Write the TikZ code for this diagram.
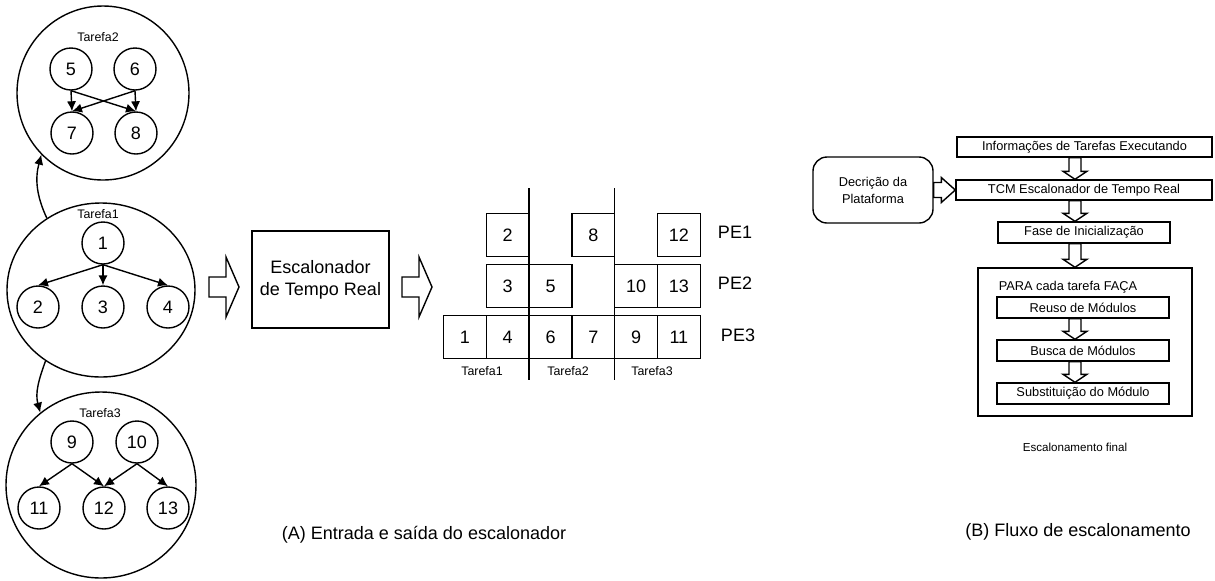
\documentclass[tikz,border=0pt]{standalone}
\usepackage{fontspec}
\setmainfont{Liberation Sans}
\usetikzlibrary{arrows,arrows.meta,shapes,positioning,calc}

\tikzset{
  tarefa/.style={draw,ellipse,inner sep=0pt},
  job/.style={draw,circle,minimum size=21pt,inner sep=0pt,font=\fontsize{9}{10}\selectfont},
  slot/.style={draw,minimum width=21.4pt,minimum height=21.5pt,inner sep=0pt,font=\fontsize{9}{10}\selectfont},
  etapa/.style={draw,minimum height=10.5pt,inner sep=0pt,font=\fontsize{6.4}{7.5}\selectfont},
  rotulo/.style={inner sep=1pt,font=\fontsize{6.2}{7}\selectfont},
  titulo/.style={inner sep=1pt,font=\fontsize{9}{10}\selectfont},
}

% seta vazada horizontal: de, ate, meia largura da haste, meia largura da ponta, comprimento da ponta
\newcommand{\setadir}[5]{%
  \draw[fill=white] let \p1=(#1), \p2=(#2) in
    (\x1,\y1+#3) -- (\x2-#5,\y1+#3) -- (\x2-#5,\y1+#4) -- (\x2,\y1)
    -- (\x2-#5,\y1-#4) -- (\x2-#5,\y1-#3) -- (\x1,\y1-#3) -- cycle;}
% seta vazada para baixo
\newcommand{\setabaixo}[2]{%
  \draw[fill=white] let \p1=(#1), \p2=(#2) in
    (\x1-3pt,\y1) -- (\x1-3pt,\y2+4pt) -- (\x1-6pt,\y2+4pt) -- (\x1,\y2)
    -- (\x1+6pt,\y2+4pt) -- (\x1+3pt,\y2+4pt) -- (\x1+3pt,\y1) -- cycle;}

\begin{document}
\begin{tikzpicture}[x=0.5pt,y=-0.5pt,>={Latex[length=5pt,width=4.6pt]},line width=0.7pt]
\useasboundingbox (0,0) rectangle (1215,580);

% tarefas
\node[tarefa,minimum width=86pt,minimum height=87pt] (t2) at (103,93) {};
\node[rotulo] (l2) at (98,37) {Tarefa2};
\node[job] (n5) at (71,69) {5};
\node[job] (n6) at (135,69) {6};
\node[job] (n7) at (72,133) {7};
\node[job] (n8) at (136,133) {8};
\draw[->] (n5.south) -- (n7.north);
\draw[->] (n5.south) -- (n8.north);
\draw[->] (n6.south) -- (n7.north);
\draw[->] (n6.south) -- (n8.north);

\node[tarefa,minimum width=94pt,minimum height=87pt] (t1) at (101,290) {};
\node[rotulo] (l1) at (98,214) {Tarefa1};
\node[job] (n1) at (103,243) {1};
\node[job] (n2) at (38,307) {2};
\node[job] (n3) at (103,307) {3};
\node[job] (n4) at (168,307) {4};
\draw[->] (n1.south) -- (n2.north);
\draw[->] (n1.south) -- (n3.north);
\draw[->] (n1.south) -- (n4.north);

\node[tarefa,minimum width=95pt,minimum height=93pt] (t3) at (101,485) {};
\node[rotulo] (l3) at (100,413) {Tarefa3};
\node[job] (n9) at (72,442) {9};
\node[job] (n10) at (137,442) {10};
\node[job] (n11) at (39,508) {11};
\node[job] (n12) at (104,508) {12};
\node[job] (n13) at (168,508) {13};
\draw[->] (n9.south) -- (n11.north);
\draw[->] (n9.south) -- (n12.north);
\draw[->] (n10.south) -- (n12.north);
\draw[->] (n10.south) -- (n13.north);

\draw[->] (t1.127) to[out=115,in=255] (t2.225);
\draw[->] (t1.232) to[out=250,in=105] (t3.130);

% escalonador
\node[draw,minimum width=68.5pt,minimum height=48.5pt,align=center,
      font=\fontsize{9}{11}\selectfont] (esc) at (320.5,279.5) {Escalonador\\de Tempo Real};
\coordinate (ea) at (209,287);
\coordinate (eb) at (239,287);
\coordinate (sa) at (402,287);
\coordinate (sb) at (432,287);
\setadir{ea}{eb}{5pt}{15pt}{6.5pt}
\setadir{sa}{sb}{5pt}{15pt}{6.5pt}

% escalonamento nos PEs
\node[slot] (s2) at (507.7,235) {2};
\node[slot] (s8) at (593.3,235) {8};
\node[slot] (s12) at (678.9,235) {12};
\node[slot] (s3) at (507.7,286) {3};
\node[slot] (s5) at (550.5,286) {5};
\node[slot] (s10) at (636.1,286) {10};
\node[slot] (s13) at (678.9,286) {13};
\node[slot] (s1) at (464.9,337) {1};
\node[slot] (s4) at (507.7,337) {4};
\node[slot] (s6) at (550.5,337) {6};
\node[slot] (s7) at (593.3,337) {7};
\node[slot] (s9) at (636.1,337) {9};
\node[slot] (s11) at (678.9,337) {11};
\draw (529.1,188) -- (529.1,380);
\draw (614.7,188) -- (614.7,380);
\node[titulo] (pe1) at (735,232) {PE1};
\node[titulo] (pe2) at (735,283) {PE2};
\node[titulo] (pe3) at (738,335) {PE3};
\node[rotulo] (g1) at (482,371) {Tarefa1};
\node[rotulo] (g2) at (568,371) {Tarefa2};
\node[rotulo] (g3) at (652,371) {Tarefa3};
\node[titulo] (capa) at (424,535) {(A) Entrada e saída do escalonador};

% fluxo
\node[etapa,minimum width=127.5pt,minimum height=10pt] (info) at (1084.5,147) {Informações de Tarefas Executando};
\node[etapa,minimum width=128pt,minimum height=10pt] (tcm) at (1084,190) {TCM Escalonador de Tempo Real};
\node[draw,rounded corners=7pt,minimum width=60pt,minimum height=33pt,align=center,
      font=\fontsize{6.4}{8.5}\selectfont] (plat) at (873,190) {Decrição da\\Plataforma};
\node[etapa,minimum width=86pt] (fase) at (1084,232.5) {Fase de Inicialização};
\node[draw,minimum width=107pt,minimum height=74pt] (laco) at (1085,342) {};
\node[rotulo,font=\fontsize{6.4}{7.5}\selectfont] (para) at (1068,287) {PARA cada tarefa FAÇA};
\node[etapa,minimum width=86pt] (reuso) at (1083,307.5) {Reuso de Módulos};
\node[etapa,minimum width=86pt] (busca) at (1083,350.5) {Busca de Módulos};
\node[etapa,minimum width=86pt] (subst) at (1083,393.5) {Substituição do Módulo};
\setadir{plat.east}{tcm.west}{3.75pt}{6.25pt}{7pt}
\setabaixo{$(info.south)+(-9.5,0)$}{tcm.north}
\setabaixo{$(tcm.south)+(-9,0)$}{fase.north}
\setabaixo{$(fase.south)+(-9,0)$}{laco.north}
\setabaixo{$(reuso.south)+(-8,0)$}{busca.north}
\setabaixo{$(busca.south)+(-8,0)$}{subst.north}
\node[rotulo,font=\fontsize{5.8}{7}\selectfont] (final) at (1075,447) {Escalonamento final};
\node[titulo] (capb) at (1078,532) {(B) Fluxo de escalonamento};
\end{tikzpicture}
\end{document}
